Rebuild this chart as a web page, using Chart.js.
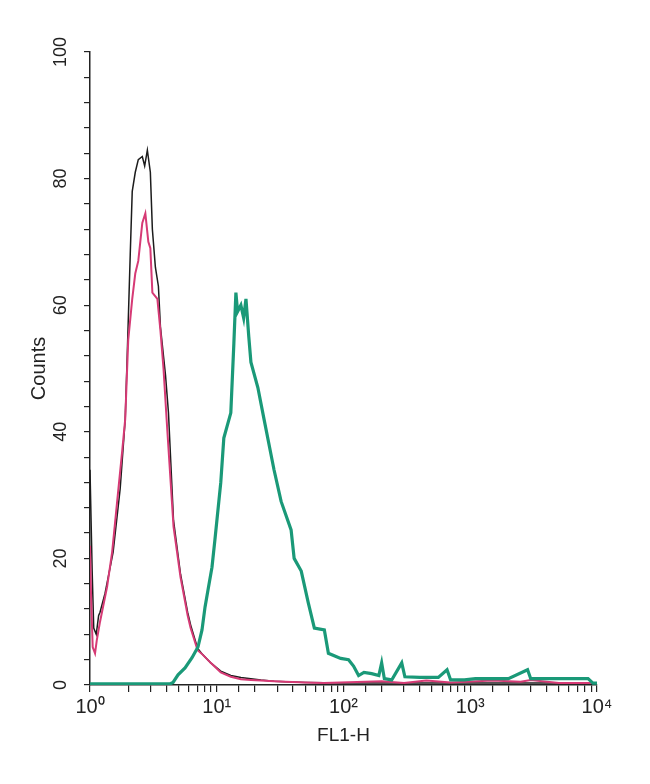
<!DOCTYPE html>
<html lang="en">
<head>
    <meta charset="UTF-8">
    <title>FL1-H histogram</title>
    <script src="https://cdn.jsdelivr.net/npm/chart.js"></script>
    <style>
        html, body { margin: 0; padding: 0; background: #fff; }
        #wrap { width: 650px; height: 784px; }
    </style>
</head>
<body>
    <div id="wrap"><canvas id="facsChart" width="650" height="784"></canvas></div>

    <script>
        // FL1-H channel values (log axis) and counts
        const blackX = [1.00, 1.04, 1.07, 1.12, 1.17, 1.20, 1.315, 1.522, 1.73, 1.896, 1.966, 2.077, 2.154, 2.276, 2.404, 2.586, 2.70, 2.835, 2.993, 3.105, 3.28, 3.465, 3.594, 3.94, 4.16, 4.56, 5.18, 5.89, 6.22, 7.06, 7.74, 8.96, 10.76, 12.91, 15.5, 18.6, 22.3, 28.3, 35, 50, 100, 200, 1000, 10000];
        const blackY = [34, 18, 9, 8, 11, 11.5, 14.5, 21, 31, 42, 52, 68, 78, 81, 83, 83.5, 82, 84.5, 81, 72, 66, 63, 56.6, 49, 43, 26, 17.5, 11.5, 9.5, 5.8, 4.8, 3.5, 2.2, 1.5, 1.2, 1, 0.8, 0.6, 0.5, 0.4, 0.3, 0.3, 0.3, 0.3];

        const pinkX = [1.00, 1.02, 1.05, 1.096, 1.13, 1.20, 1.364, 1.495, 1.638, 1.795, 1.896, 2.003, 2.154, 2.276, 2.404, 2.586, 2.733, 2.886, 2.993, 3.105, 3.40, 3.594, 3.80, 4.08, 4.56, 5.18, 5.89, 6.22, 7.06, 7.74, 8.96, 10.76, 12.91, 15.5, 18.6, 22.3, 28.3, 35, 50, 70, 200, 300, 450, 700, 1500, 2500, 3000, 5000, 10000];
        const pinkY = [22, 14, 6, 5, 7, 10, 15.5, 21, 29, 37, 42, 54.5, 61, 65, 67, 73, 74.5, 70, 69, 62, 61, 56, 50, 40, 25, 17, 11, 9, 5.5, 4.8, 3.5, 2, 1.3, 0.9, 0.8, 0.7, 0.6, 0.5, 0.4, 0.3, 0.6, 0.3, 0.7, 0.4, 0.7, 0.5, 0.8, 0.3, 0.3];

        const tealX = [1.00, 4.3, 4.52, 4.95, 5.62, 6.38, 7.11, 7.65, 8.08, 8.53, 9.17, 9.68, 10.76, 11.37, 12.91, 13.65, 14.16, 14.6, 15.5, 16.3, 17.0, 17.9, 18.6, 21.1, 23.6, 28.3, 32.2, 38.6, 40.8, 46.4, 52.7, 58.9, 70.6, 76.0, 95, 109.6, 120, 131.6, 145, 166.8, 190, 200, 210, 240, 288, 305, 400, 560, 656, 700, 900, 1100, 2000, 2833, 3000, 5000, 8500, 9290, 10000];
        const tealY = [0.2, 0.2, 0.4, 1.6, 2.7, 4.3, 6, 8.7, 12.3, 15, 18.6, 23, 32, 39, 43, 54, 62, 59, 60, 58, 61, 55, 51, 47, 42, 34, 29, 24.5, 20, 18, 13, 9, 8.7, 5, 4.2, 4, 3, 1.5, 2, 1.8, 1.5, 3.5, 1, 0.8, 3.5, 1.3, 1.2, 1.2, 2.4, 0.8, 0.8, 1, 1, 2.4, 1, 1, 1, 0.3, 0.3];

        const yTickLabels = [0, 20, 40, 60, 80, 100];
        const xTickLabels = { 1: '10⁰', 10: '10¹', 100: '10²', 1000: '10³', 10000: '10⁴' };

        const toPoints = (xs, ys) => xs.map((x, i) => ({ x: x, y: ys[i] }));
        const FONT = '"Liberation Sans", Arial, sans-serif';
        const INK = '#222';

        new Chart(document.getElementById('facsChart'), {
            type: 'line',
            data: {
                datasets: [
                    { label: 'teal', data: toPoints(tealX, tealY), borderColor: '#1a9978', borderWidth: 3.2 },
                    { label: 'pink', data: toPoints(pinkX, pinkY), borderColor: '#d63a75', borderWidth: 2 },
                    { label: 'black', data: toPoints(blackX, blackY), borderColor: '#1c1c1c', borderWidth: 1.5 }
                ]
            },
            options: {
                responsive: false,
                animation: false,
                elements: { point: { radius: 0 }, line: { tension: 0 } },
                layout: { padding: { left: 0, top: 52, right: 53, bottom: 0 } },
                plugins: { legend: { display: false }, tooltip: { enabled: false } },
                scales: {
                    x: {
                        type: 'logarithmic',
                        min: 1,
                        max: 10000,
                        afterFit: (s) => { s.height = 99; },
                        border: { display: true, color: INK, width: 1.5 },
                        grid: { drawOnChartArea: false, drawTicks: true, tickLength: 7, color: INK, lineWidth: 1.2 },
                        ticks: {
                            autoSkip: false,
                            maxRotation: 0,
                            padding: 3,
                            color: INK,
                            font: { family: FONT, size: 20 },
                            callback: (v) => xTickLabels[v] || ''
                        },
                        title: { display: true, text: 'FL1-H', color: INK, font: { family: FONT, size: 19 }, padding: { top: 0, bottom: 37 } }
                    },
                    y: {
                        min: 0,
                        max: 100,
                        afterFit: (s) => { s.width = 90; },
                        border: { display: true, color: INK, width: 1.5 },
                        grid: { drawOnChartArea: false, drawTicks: true, tickLength: 6, color: INK, lineWidth: 1.2 },
                        ticks: {
                            stepSize: 4,
                            autoSkip: false,
                            minRotation: 90,
                            maxRotation: 90,
                            crossAlign: 'center',
                            padding: 8,
                            color: INK,
                            font: { family: FONT, size: 18 },
                            callback: (v) => yTickLabels.includes(v) ? String(v) : ''
                        },
                        title: { display: true, text: 'Counts', color: INK, font: { family: FONT, size: 20 }, padding: { top: 27, bottom: 0 } }
                    }
                }
            }
        });
    </script>
</body>
</html>
